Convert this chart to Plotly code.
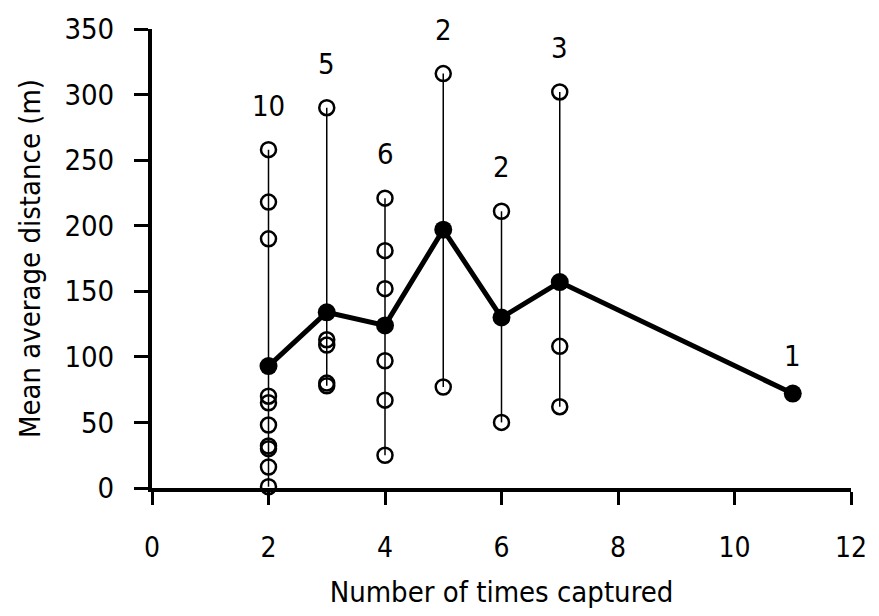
import plotly.graph_objects as go

# Number of times captured (x categories)
captures = [2, 3, 4, 5, 6, 7, 11]
# Individual mean distances (open circles) per capture group
individuals = {
    2: [258, 218, 190, 70, 65, 48, 32, 30, 16, 1],
    3: [290, 113, 109, 80, 78],
    4: [221, 181, 152, 97, 67, 25],
    5: [316, 77],
    6: [211, 50],
    7: [302, 108, 62],
    11: [72],
}
# Group means (filled circles, joined by line)
means = [93, 134, 124, 197, 130, 157, 72]
# Sample size labels
counts = ["10", "5", "6", "2", "2", "3", "1"]

FONT = "DejaVu Sans Condensed, Liberation Sans Narrow, Arial Narrow, sans-serif"

fig = go.Figure()

# vertical range lines
vx, vy = [], []
for x in captures:
    vals = individuals[x]
    if len(vals) > 1:
        vx += [x, x, None]
        vy += [min(vals), max(vals), None]
fig.add_trace(go.Scatter(x=vx, y=vy, mode="lines",
                         line=dict(color="black", width=1.5),
                         hoverinfo="skip", showlegend=False, cliponaxis=False))

# open circles (single-capture group only has its mean)
ox, oy = [], []
for x in captures:
    if len(individuals[x]) > 1:
        for v in individuals[x]:
            ox.append(x)
            oy.append(v)
fig.add_trace(go.Scatter(x=ox, y=oy, mode="markers",
                         marker=dict(symbol="circle-open", size=15,
                                     color="black", line=dict(width=2.5, color="black")),
                         showlegend=False, cliponaxis=False))

# means
fig.add_trace(go.Scatter(x=captures, y=means, mode="lines+markers",
                         line=dict(color="black", width=5),
                         marker=dict(symbol="circle", size=18, color="black"),
                         showlegend=False, cliponaxis=False))

# count labels above each group
for x, c in zip(captures, counts):
    top = max(individuals[x] + [means[captures.index(x)]])
    fig.add_annotation(x=x, y=top, text=c, showarrow=False,
                       yshift=44 if len(individuals[x]) > 1 else 38,
                       font=dict(family=FONT, size=29, color="black"))

fig.update_layout(
    width=879, height=616,
    margin=dict(l=152, r=16, t=27, b=126),
    paper_bgcolor="white", plot_bgcolor="white",
    font=dict(family=FONT, size=29, color="black"),
)
fig.update_xaxes(range=[0, 12], tickvals=[0, 2, 4, 6, 8, 10, 12],
                 showline=True, linecolor="black", linewidth=4,
                 ticks="outside", ticklen=13, tickwidth=3, tickcolor="black",
                 showgrid=False, zeroline=False, ticklabelstandoff=18,
                 ticklabeloverflow="allow", tickfont=dict(size=28),
                 title=dict(text="Number of times captured", standoff=20,
                            font=dict(family=FONT, size=29)))
fig.update_yaxes(range=[0, 350], tickvals=[0, 50, 100, 150, 200, 250, 300, 350],
                 showline=True, linecolor="black", linewidth=4,
                 ticks="outside", ticklen=14, tickwidth=3, tickcolor="black",
                 showgrid=False, zeroline=False, ticklabelstandoff=14,
                 title=dict(text="Mean average distance (m)", standoff=16,
                            font=dict(family=FONT, size=29)))

fig.write_html("out.html",
               config={"displayModeBar": False},
               post_script="document.body.style.margin='0';document.body.style.overflow='hidden';")
